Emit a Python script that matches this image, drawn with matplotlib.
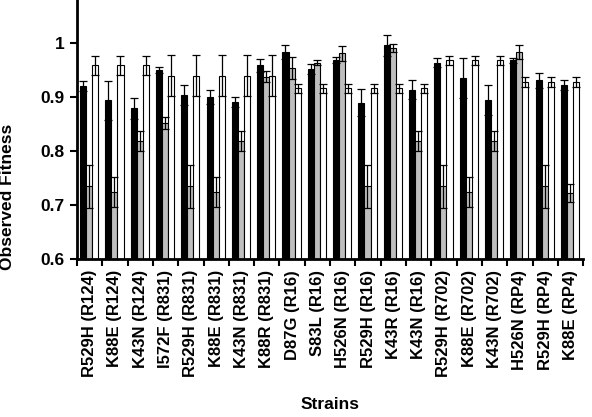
import numpy as np
import matplotlib.pyplot as plt

plt.rcParams['font.family'] = ['Liberation Sans', 'DejaVu Sans']
plt.rcParams['font.weight'] = 'bold'

# strains
strains = ['R529H (R124)', 'K88E (R124)', 'K43N (R124)', 'I572F (R831)',
           'R529H (R831)', 'K88E (R831)', 'K43N (R831)', 'K88R (R831)',
           'D87G (R16)', 'S83L (R16)', 'H526N (R16)', 'R529H (R16)',
           'K43R (R16)', 'K43N (R16)', 'R529H (R702)', 'K88E (R702)',
           'K43N (R702)', 'H526N (RP4)', 'R529H (RP4)', 'K88E (RP4)']

# black series
black_val = [0.920, 0.894, 0.879, 0.950, 0.904, 0.900, 0.891, 0.959,
             0.983, 0.952, 0.969, 0.890, 0.996, 0.914, 0.964, 0.936,
             0.894, 0.968, 0.931, 0.922]
black_err = [0.009, 0.036, 0.020, 0.006, 0.018, 0.013, 0.009, 0.012,
             0.013, 0.010, 0.006, 0.025, 0.020, 0.017, 0.009, 0.037,
             0.028, 0.004, 0.014, 0.009]

# gray series
gray_val = [0.735, 0.724, 0.819, 0.852, 0.735, 0.724, 0.819, 0.938,
            0.954, 0.964, 0.981, 0.735, 0.991, 0.819, 0.735, 0.724,
            0.819, 0.983, 0.735, 0.722]
gray_err = [0.040, 0.027, 0.019, 0.012, 0.040, 0.027, 0.019, 0.010,
            0.020, 0.005, 0.014, 0.040, 0.008, 0.019, 0.040, 0.027,
            0.019, 0.013, 0.040, 0.017]

# white series
white_val = [0.959, 0.959, 0.959, 0.940, 0.940, 0.940, 0.940, 0.940,
             0.916, 0.916, 0.916, 0.916, 0.916, 0.916, 0.968, 0.968,
             0.968, 0.928, 0.928, 0.928]
white_err = [0.018, 0.018, 0.018, 0.038, 0.038, 0.038, 0.038, 0.038,
             0.008, 0.008, 0.008, 0.008, 0.008, 0.008, 0.009, 0.009,
             0.009, 0.009, 0.009, 0.009]

x = np.arange(len(strains))
w = 0.24

fig = plt.figure(figsize=(5.92, 4.17), dpi=100)
ax = fig.add_axes([0.130, 0.379, 0.855, 0.621])

ekw = dict(elinewidth=0.9, capthick=0.9, ecolor='black')
ax.bar(x + 0.24, black_val, w, color='black', edgecolor='black', lw=0.8,
       yerr=black_err, capsize=3, error_kw=ekw)
ax.bar(x + 0.48, gray_val, w, color='#bebebe', edgecolor='black', lw=0.8,
       yerr=gray_err, capsize=3, error_kw=ekw)
ax.bar(x + 0.72, white_val, w, color='white', edgecolor='black', lw=0.8,
       yerr=white_err, capsize=3, error_kw=ekw)

fs = 12.5
ax.set_xlim(0, len(strains))
ax.set_ylim(0.6, 1.08)
ax.set_yticks([0.6, 0.7, 0.8, 0.9, 1.0])
ax.set_yticklabels(['0.6', '0.7', '0.8', '0.9', '1'], fontsize=fs)

ax.set_xticks(np.arange(len(strains) + 1))
ax.set_xticklabels([])
ax.set_xticks(x + 0.5, minor=True)
ax.set_xticklabels(strains, minor=True, rotation=90, fontsize=12)
ax.tick_params(axis='x', which='minor', length=0, pad=8)
ax.tick_params(axis='both', which='major', direction='out', length=5, width=1.5, pad=4)

for s in ['top', 'right']:
    ax.spines[s].set_visible(False)
for s in ['left', 'bottom']:
    ax.spines[s].set_linewidth(2)

ax.set_ylabel('Observed Fitness', fontsize=fs, fontweight='bold')
ax.yaxis.set_label_coords(-0.122, 0.24)
ax.set_xlabel('Strains', fontsize=fs, fontweight='bold', labelpad=14)

fig.savefig('out.png', dpi=100)
